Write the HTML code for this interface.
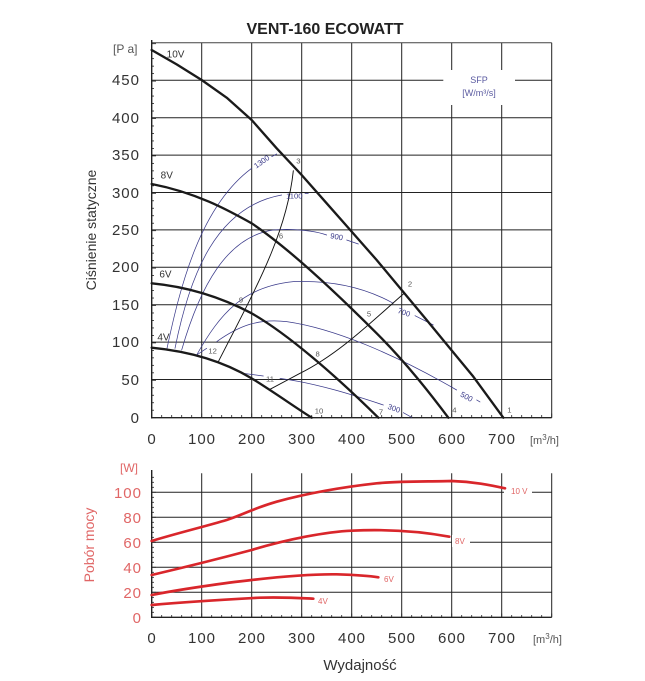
<!DOCTYPE html>
<html><head><meta charset="utf-8"><style>
html,body{margin:0;padding:0;background:#fff;}
svg{display:block;font-family:"Liberation Sans",sans-serif;}
</style></head><body>
<svg width="645" height="681" viewBox="0 0 645 681" xmlns="http://www.w3.org/2000/svg">
<rect width="645" height="681" fill="#fff"/>
<text x="325" y="34" text-anchor="middle" font-size="16" font-weight="bold" fill="#222">VENT-160 ECOWATT</text>

<g stroke="#222" stroke-width="1" fill="none">
  <path d="M201.7,42.7V417.7M251.7,42.7V417.7M301.7,42.7V417.7M351.7,42.7V417.7M401.7,42.7V417.7M451.7,42.7V417.7M501.7,42.7V417.7M551.7,42.7V417.7"/>
  <path d="M151.7,80.3H551.7M151.7,117.7H551.7M151.7,155.1H551.7M151.7,192.5H551.7M151.7,229.9H551.7M151.7,267.3H551.7M151.7,304.7H551.7M151.7,342.1H551.7M151.7,379.5H551.7"/>
  <path d="M151.7,42.7H551.7" stroke="#444"/>
  <path d="M151.7,40V418.5M151,417.7H551.7" stroke-width="1.4"/>
</g>
<g id="ytk" stroke="#222" stroke-width="0.8"></g>
<rect x="443.3" y="70" width="71.7" height="35" fill="#fff"/>
<text x="479" y="83" text-anchor="middle" font-size="9" fill="#5a5aa0">SFP</text>
<text x="479" y="96" text-anchor="middle" font-size="9" fill="#5a5aa0">[W/m³/s]</text>

<g font-size="15" fill="#333" text-anchor="end" letter-spacing="1">
<text x="140" y="85">450</text><text x="140" y="123">400</text><text x="140" y="160">350</text><text x="140" y="198">300</text><text x="140" y="235">250</text><text x="140" y="272">200</text><text x="140" y="310">150</text><text x="140" y="347">100</text><text x="140" y="385">50</text><text x="140" y="423">0</text>
</g>
<text x="113" y="53" font-size="12" fill="#555">[P a]</text>
<g font-size="15" fill="#333" text-anchor="middle" letter-spacing="1">
<text x="152" y="444">0</text><text x="202" y="444">100</text><text x="252" y="444">200</text><text x="302" y="444">300</text><text x="352" y="444">400</text><text x="402" y="444">500</text><text x="452" y="444">600</text><text x="502" y="444">700</text>
</g>
<text x="530" y="444" font-size="11" fill="#555">[m<tspan dy="-4" font-size="8">3</tspan><tspan dy="4">/h]</tspan></text>
<text transform="translate(96,230) rotate(-90)" text-anchor="middle" font-size="14" fill="#333">Ciśnienie statyczne</text>

<g transform="translate(100,20) scale(0.33333)" fill="none" stroke-linejoin="round" stroke-linecap="round">
 <g stroke="#3a3a8a" stroke-width="2.2">
  <path d="M200,990 C240,800 300,560 455,445"/><path d="M515,410 L530,402"/>
  <path d="M225,985 C270,760 350,560 545,525"/><path d="M615,521 L625,520"/>
  <path d="M245,990 C300,800 380,650 520,630 L560,628 Q640,630 680,645"/><path d="M740,660 L775,672"/>
  <path d="M290,1005 C360,880 430,800 580,785 C700,780 800,805 880,850"/><path d="M945,887 L1000,915"/>
  <path d="M290,1005 L320,985"/><path d="M350,965 C420,915 480,895 560,905 C700,925 880,1000 1070,1110"/><path d="M1130,1140 L1140,1146"/>
  <path d="M430,1060 L490,1068"/><path d="M540,1075 C650,1090 760,1125 850,1155"/><path d="M910,1178 L935,1192"/>
 </g>
 <g stroke="#111" stroke-width="2.8">
  <path d="M580,452 C560,640 470,800 355,1025"/>
  <path d="M910,822 C820,900 720,1000 600,1060 L510,1108"/>
 </g>
 <g stroke="#1a1a1a" stroke-width="7">
  <polyline points="155,90 230,133 305,180 380,233 455,300 530,385 605,465 680,550 755,635 830,720 905,810 980,900 1050,985 1120,1070 1210,1193"/>
  <path d="M155,492 C300,520 400,580 455,610 C560,680 700,810 830,940 C920,1030 990,1120 1045,1193"/>
  <path d="M155,790 C260,800 360,830 455,880 C560,940 700,1060 835,1193"/>
  <path d="M155,983 C280,995 380,1030 455,1075 C520,1115 590,1165 635,1193"/>
 </g>
 <g font-size="30" fill="#333">
  <text x="200" y="112">10V</text><text x="182" y="476">8V</text><text x="178" y="772">6V</text><text x="172" y="962">4V</text>
 </g>
 <g font-size="23" fill="#555" text-anchor="middle">
  <text x="595" y="430">3</text><text x="543" y="656">6</text><text x="423" y="848">9</text><text x="338" y="1001">12</text>
  <text x="930" y="800">2</text><text x="807" y="890">5</text><text x="653" y="1010">8</text><text x="510" y="1085">11</text>
  <text x="1228" y="1178">1</text><text x="1063" y="1178">4</text><text x="843" y="1183">7</text><text x="657" y="1180">10</text>
 </g>
 <g font-size="23" fill="#3a3a8a" text-anchor="middle">
  <text x="485" y="433" transform="rotate(-35 485 425)">1300</text>
  <text x="583" y="535">1100</text>
  <text x="710" y="658" transform="rotate(10 710 650)">900</text>
  <text x="912" y="885" transform="rotate(20 912 877)">700</text>
  <text x="1100" y="1138" transform="rotate(28 1100 1130)">500</text>
  <text x="882" y="1173" transform="rotate(20 882 1165)">300</text>
 </g>
</g>

<g stroke="#222" stroke-width="1" fill="none">
  <path d="M201.7,473.3V617.3M251.7,473.3V617.3M301.7,473.3V617.3M351.7,473.3V617.3M401.7,473.3V617.3M451.7,473.3V617.3M501.7,473.3V617.3M551.7,473.3V617.3"/>
  <path d="M151.7,492.3H551.7M151.7,517.3H551.7M151.7,542.3H551.7M151.7,567.3H551.7M151.7,592.3H551.7"/>
  <path d="M151.7,470V618M151,617.3H551.7" stroke-width="1.4"/>
</g>
<g id="btk" stroke="#222" stroke-width="0.8"></g>
<rect x="504" y="485" width="28" height="12" fill="#fff"/>
<rect x="452" y="535" width="18" height="12" fill="#fff"/>
<g font-size="15" fill="#e06666" text-anchor="end" letter-spacing="1">
<text x="142" y="498">100</text><text x="142" y="523">80</text><text x="142" y="548">60</text><text x="142" y="573">40</text><text x="142" y="598">20</text><text x="142" y="623">0</text>
</g>
<text x="120" y="472" font-size="12" fill="#e06666">[W]</text>
<g font-size="15" fill="#333" text-anchor="middle" letter-spacing="1">
<text x="152" y="643">0</text><text x="202" y="643">100</text><text x="252" y="643">200</text><text x="302" y="643">300</text><text x="352" y="643">400</text><text x="402" y="643">500</text><text x="452" y="643">600</text><text x="502" y="643">700</text>
</g>
<text x="533" y="643" font-size="11" fill="#555">[m<tspan dy="-4" font-size="8">3</tspan><tspan dy="4">/h]</tspan></text>
<text transform="translate(94,545) rotate(-90)" text-anchor="middle" font-size="14" fill="#e06666">Pobór mocy</text>
<text x="360" y="670" text-anchor="middle" font-size="15" fill="#333">Wydajność</text>

<g transform="translate(80,450) scale(0.33333)" fill="none" stroke="#d9262b" stroke-width="8" stroke-linecap="round" stroke-linejoin="round">
 <path d="M215,273 C290,250 380,228 440,210 C500,190 520,175 590,155 C700,125 800,110 890,100 C960,93 1040,95 1115,93 C1180,95 1230,105 1275,115"/>
 <path d="M215,375 C300,355 440,320 515,300 C620,268 740,245 815,242 C900,238 1000,240 1108,260"/>
 <path d="M215,435 C300,418 440,398 515,390 C620,378 700,372 770,373 C830,375 870,378 895,382"/>
 <path d="M215,465 C330,455 450,448 540,443 C610,441 660,444 700,446"/>
</g>
<g font-size="8" fill="#e06666">
 <text x="511" y="494">10 V</text><text x="455" y="544">8V</text><text x="384" y="582">6V</text><text x="318" y="604">4V</text>
</g>

<script>
(function(){
 var ns="http://www.w3.org/2000/svg";
 function ln(g,x1,y1,x2,y2){var l=document.createElementNS(ns,"line");l.setAttribute("x1",x1);l.setAttribute("y1",y1);l.setAttribute("x2",x2);l.setAttribute("y2",y2);g.appendChild(l);}
 var t=document.getElementById("ytk");
 for(var v=0;v<=500;v+=10){var y=417.7-v*0.748;ln(t,151.7,y,v%50?154:156,y);}
 for(var q=0;q<=800;q+=20){var x=151.7+q*0.5;ln(t,x,417.7,x,q%100?415:413.5);}
 var b=document.getElementById("btk");
 for(var w=0;w<=112;w+=4){var y2=617.3-w*1.25;ln(b,151.7,y2,w%20?154:156,y2);}
 for(var q2=0;q2<=800;q2+=20){var x2=151.7+q2*0.5;ln(b,x2,617.3,x2,q2%100?615:613.5);}
})();
</script>
</svg>
</body></html>
